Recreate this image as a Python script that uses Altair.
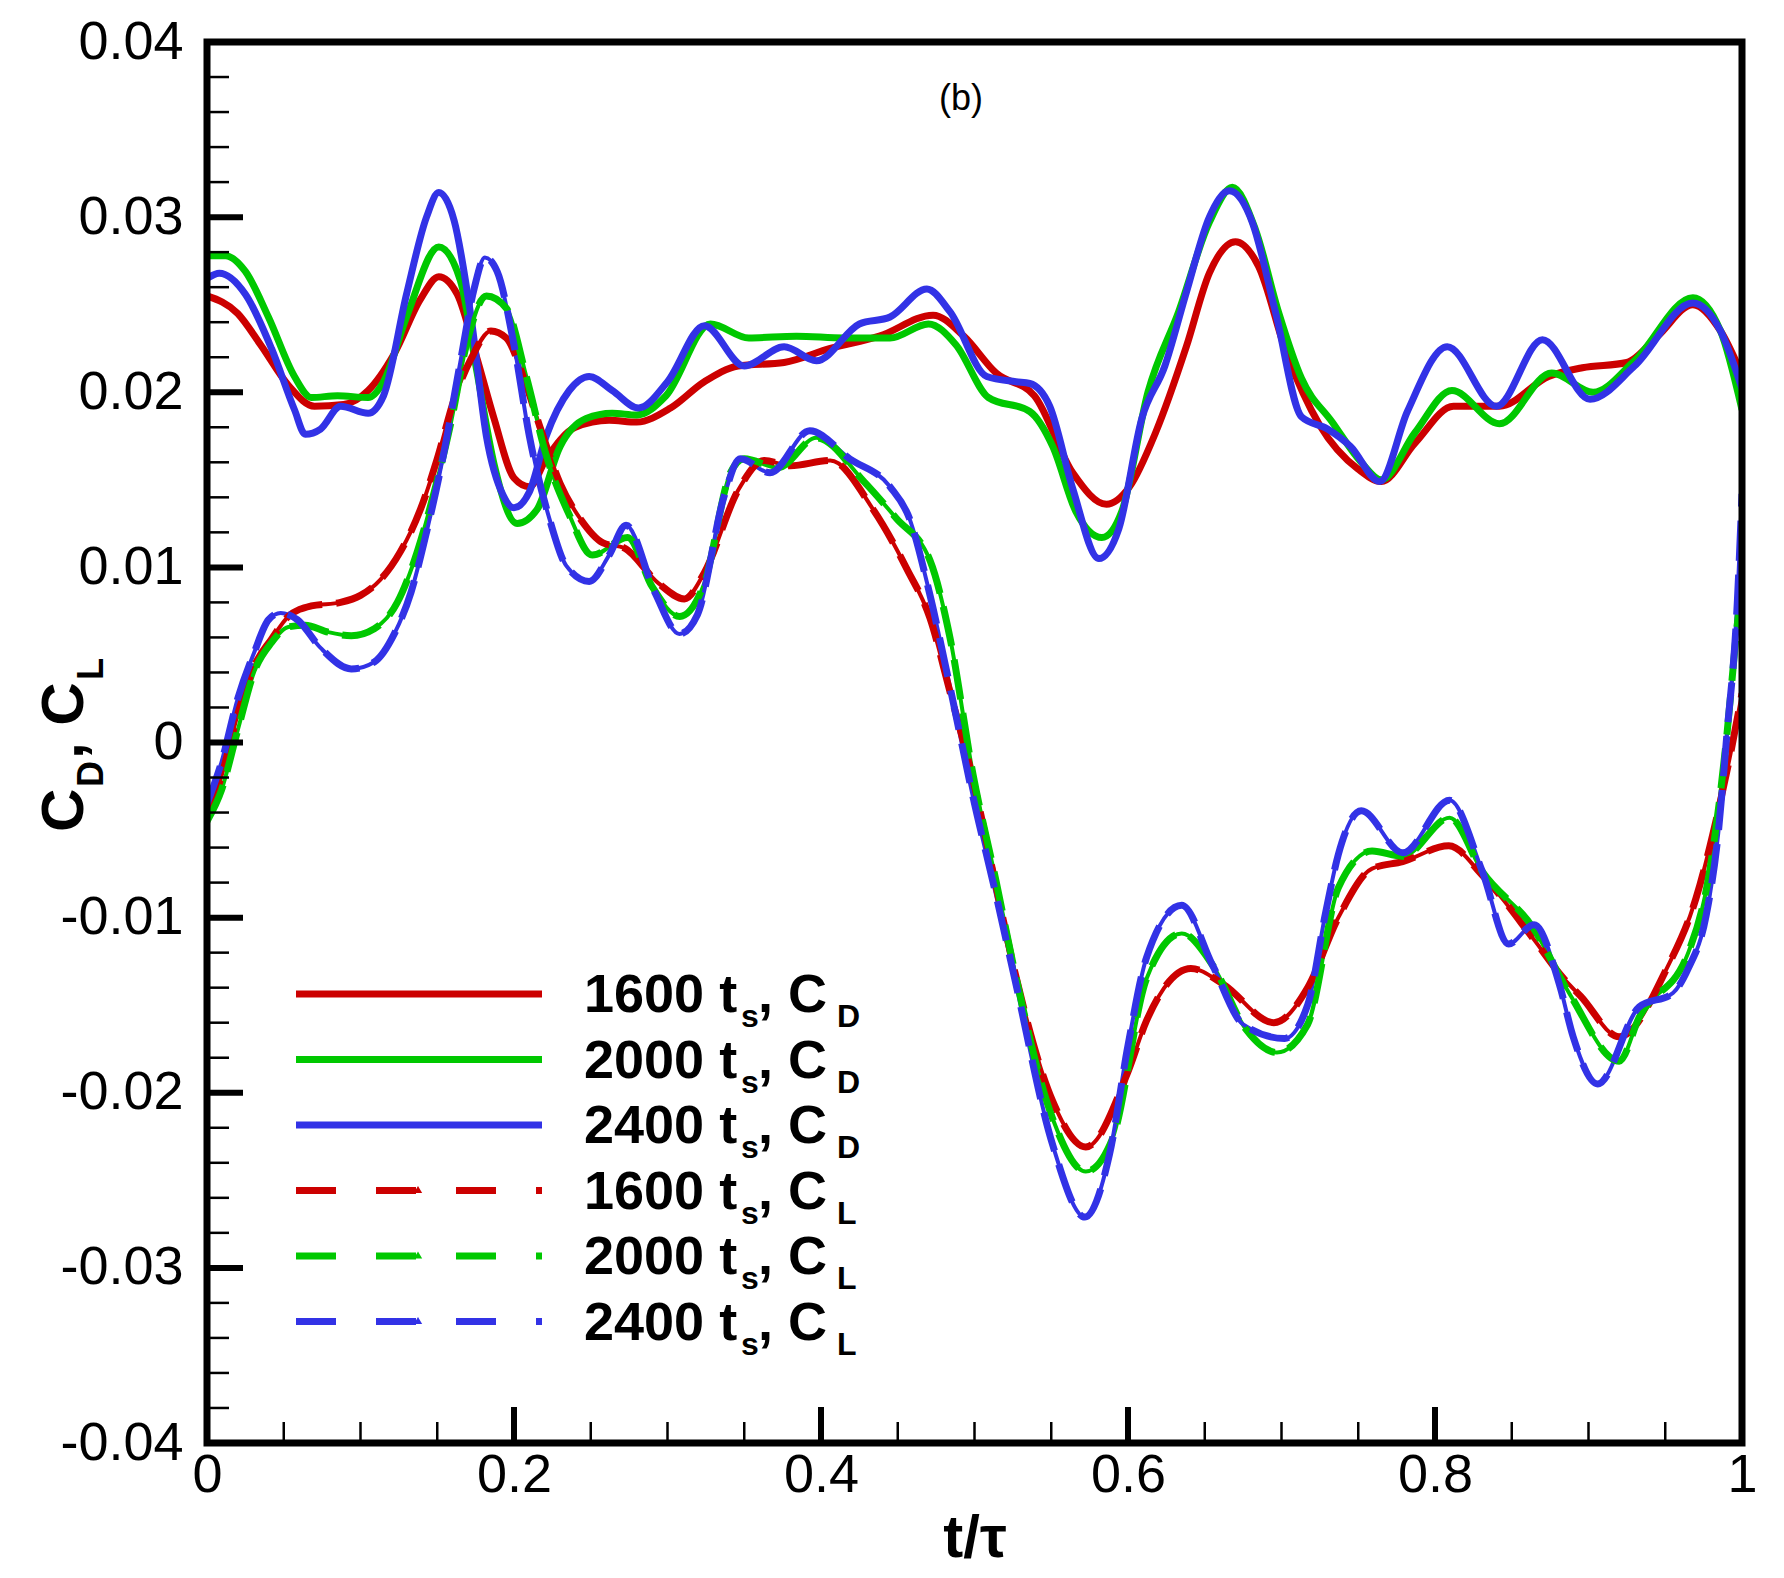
import altair as alt
import pandas as pd

# ---------------- data ----------------
RUNS = ["1600", "2000", "2400"]
COLORS = ["#CC0000", "#00C800", "#3232E6"]

T_CD_1600 = [0.0, 0.02, 0.035, 0.053, 0.07, 0.089, 0.105, 0.122, 0.139, 0.151, 0.163, 0.176, 0.187, 0.2, 0.21,
             0.221, 0.24, 0.262, 0.28, 0.302, 0.324, 0.346, 0.376, 0.406, 0.438, 0.473, 0.493, 0.514, 0.539, 0.564,
             0.586, 0.601, 0.618, 0.638, 0.653, 0.67, 0.685, 0.703, 0.725, 0.75, 0.765, 0.787, 0.812, 0.842, 0.874,
             0.896, 0.925, 0.945, 0.968, 0.986, 1.0]
V_CD_1600 = [0.0255, 0.0245, 0.0227, 0.0204, 0.0192, 0.0193, 0.0201, 0.0222, 0.0253, 0.0266, 0.0256, 0.0219, 0.0185,
             0.0151, 0.0146, 0.0162, 0.018, 0.0184, 0.0183, 0.0191, 0.0206, 0.0215, 0.0217, 0.0225, 0.0232, 0.0244,
             0.0232, 0.0211, 0.0198, 0.0154, 0.0136, 0.0146, 0.0177, 0.0226, 0.0268, 0.0286, 0.0272, 0.0223, 0.0181,
             0.0156, 0.0149, 0.0171, 0.0192, 0.0192, 0.0209, 0.0214, 0.0217, 0.0232, 0.025, 0.0235, 0.021]

T_CD_2000 = [0.0, 0.012, 0.025, 0.04, 0.057, 0.068, 0.085, 0.105, 0.115, 0.13, 0.151, 0.165, 0.176, 0.187, 0.202,
             0.215, 0.23, 0.247, 0.264, 0.28, 0.299, 0.328, 0.353, 0.384, 0.415, 0.445, 0.47, 0.488, 0.509, 0.536,
             0.551, 0.566, 0.583, 0.596, 0.613, 0.633, 0.653, 0.668, 0.683, 0.698, 0.713, 0.733, 0.752, 0.765, 0.787,
             0.811, 0.842, 0.876, 0.903, 0.93, 0.968, 0.986, 1.0]
V_CD_2000 = [0.0278, 0.0278, 0.0269, 0.0243, 0.0209, 0.0197, 0.0198, 0.0197, 0.0206, 0.0243, 0.0283, 0.0264, 0.0211,
             0.0159, 0.0125, 0.0133, 0.0169, 0.0185, 0.0188, 0.0187, 0.0198, 0.0239, 0.0231, 0.0232, 0.0231, 0.0231,
             0.0239, 0.0227, 0.0197, 0.0189, 0.0169, 0.0132, 0.0117, 0.0132, 0.02, 0.0246, 0.0297, 0.0317, 0.0293,
             0.0246, 0.0208, 0.0183, 0.016, 0.015, 0.0177, 0.0201, 0.0182, 0.0211, 0.02, 0.0218, 0.0254, 0.0235,
             0.019]

T_CD_2400 = [0.0, 0.008, 0.025, 0.042, 0.057, 0.064, 0.074, 0.087, 0.105, 0.115, 0.13, 0.143, 0.151, 0.161, 0.172,
             0.182, 0.193, 0.2, 0.21, 0.221, 0.236, 0.249, 0.264, 0.281, 0.3, 0.324, 0.35, 0.376, 0.397, 0.425,
             0.445, 0.469, 0.484, 0.508, 0.527, 0.536, 0.549, 0.564, 0.581, 0.594, 0.609, 0.624, 0.638, 0.653,
             0.666, 0.681, 0.696, 0.713, 0.73, 0.745, 0.764, 0.782, 0.808, 0.84, 0.87, 0.901, 0.93, 0.968, 0.986,
             1.0]
V_CD_2400 = [0.0265, 0.0268, 0.0256, 0.0225, 0.019, 0.0176, 0.0179, 0.0192, 0.0188, 0.0198, 0.0256, 0.03, 0.0314,
             0.0298, 0.0243, 0.0175, 0.0141, 0.0134, 0.0143, 0.0175, 0.0201, 0.0209, 0.0201, 0.0191, 0.0206, 0.0238,
             0.0215, 0.0226, 0.0218, 0.0239, 0.0243, 0.0259, 0.0246, 0.0209, 0.0206, 0.0205, 0.0192, 0.0145, 0.0105,
             0.0122, 0.0185, 0.0215, 0.0257, 0.03, 0.0315, 0.0297, 0.0246, 0.0186, 0.0179, 0.0169, 0.0149, 0.0189,
             0.0226, 0.0192, 0.023, 0.0196, 0.0215, 0.0251, 0.0235, 0.0202]

T_CL_1600 = [0.0, 0.0095, 0.02, 0.031, 0.042, 0.053, 0.068, 0.087, 0.1, 0.113, 0.126, 0.139, 0.15, 0.161, 0.172,
             0.185, 0.195, 0.206, 0.217, 0.23, 0.243, 0.258, 0.272, 0.294, 0.311, 0.324, 0.346, 0.363, 0.38, 0.406,
             0.434, 0.456, 0.471, 0.484, 0.499, 0.514, 0.526, 0.551, 0.5725, 0.6, 0.612, 0.641, 0.662, 0.695, 0.717,
             0.737, 0.759, 0.779, 0.809, 0.831, 0.864, 0.883, 0.895, 0.92, 0.951, 0.97, 0.9835, 0.9926, 1.0]
V_CL_1600 = [-0.0043, -0.0019, 0.0016, 0.0044, 0.0059, 0.0072, 0.0078, 0.008, 0.0084, 0.0093, 0.0109, 0.0133,
             0.0162, 0.0196, 0.0219, 0.0235, 0.0231, 0.0209, 0.018, 0.0148, 0.0128, 0.0114, 0.0111, 0.0091, 0.0082,
             0.0097, 0.0144, 0.0161, 0.0158, 0.0161, 0.0133, 0.0099, 0.0071, 0.0029, -0.0021, -0.0082, -0.013,
             -0.0205, -0.0231, -0.0188, -0.0159, -0.0129, -0.0138, -0.016, -0.014, -0.01, -0.0072, -0.0068, -0.0059,
             -0.0076, -0.0112, -0.0134, -0.0145, -0.0168, -0.0129, -0.0089, -0.0043, -0.0006, 0.0028]

T_CL_2000 = [0.0, 0.0095, 0.02, 0.031, 0.042, 0.053, 0.064, 0.079, 0.094, 0.109, 0.124, 0.137, 0.148, 0.159, 0.169,
             0.182, 0.195, 0.208, 0.221, 0.236, 0.251, 0.274, 0.29, 0.308, 0.324, 0.341, 0.35, 0.372, 0.397, 0.428,
             0.449, 0.471, 0.484, 0.499, 0.514, 0.526, 0.551, 0.5725, 0.59, 0.612, 0.635, 0.655, 0.677, 0.697, 0.717,
             0.737, 0.759, 0.779, 0.8095, 0.831, 0.864, 0.888, 0.92, 0.933, 0.965, 0.979, 0.99, 0.997, 1.0]
V_CL_2000 = [-0.0045, -0.0027, 0.0007, 0.0041, 0.0057, 0.0066, 0.0067, 0.0063, 0.0061, 0.0065, 0.008, 0.0109,
             0.0143, 0.0183, 0.0227, 0.0255, 0.0248, 0.0209, 0.0164, 0.013, 0.0107, 0.0117, 0.0089, 0.0072, 0.0091,
             0.0154, 0.0162, 0.0157, 0.0174, 0.0149, 0.0128, 0.0104, 0.006, -0.0018, -0.0079, -0.013, -0.0215,
             -0.0245, -0.0226, -0.0135, -0.0109, -0.0127, -0.0164, -0.0177, -0.0161, -0.0083, -0.0062, -0.0065,
             -0.0043, -0.0074, -0.0106, -0.0144, -0.0182, -0.0157, -0.012, -0.0073, 0.0003, 0.0068, 0.009]

T_CL_2400 = [0.0, 0.0095, 0.02, 0.031, 0.04, 0.048, 0.059, 0.074, 0.094, 0.109, 0.122, 0.133, 0.143, 0.154, 0.165,
             0.174, 0.181, 0.189, 0.2, 0.21, 0.223, 0.234, 0.249, 0.262, 0.273, 0.2916, 0.3078, 0.3195, 0.337,
             0.3474, 0.3668, 0.3927, 0.4187, 0.445, 0.4576, 0.4705, 0.4835, 0.499, 0.514, 0.526, 0.551, 0.572,
             0.588, 0.6, 0.612, 0.635, 0.655, 0.675, 0.702, 0.717, 0.729, 0.737, 0.752, 0.779, 0.8095, 0.831,
             0.848, 0.8645, 0.881, 0.89, 0.906, 0.933, 0.955, 0.965, 0.9766, 0.9845, 0.99, 0.997, 1.0]
V_CL_2400 = [-0.0035, -0.0011, 0.0025, 0.0052, 0.007, 0.0074, 0.007, 0.0054, 0.0042, 0.0046, 0.0062, 0.0086, 0.012,
             0.0164, 0.0217, 0.0259, 0.0277, 0.0269, 0.0227, 0.0175, 0.0128, 0.0101, 0.0092, 0.0107, 0.0124, 0.0086,
             0.0062, 0.0073, 0.0141, 0.0162, 0.0154, 0.0178, 0.0162, 0.0146, 0.0128, 0.0086, 0.0034, -0.0031,
             -0.0087, -0.0134, -0.023, -0.0271, -0.0235, -0.0173, -0.0123, -0.0093, -0.0127, -0.0161, -0.0169,
             -0.015, -0.0096, -0.0064, -0.0039, -0.0063, -0.0033, -0.0074, -0.0115, -0.0104, -0.0138, -0.0168,
             -0.0195, -0.0151, -0.0143, -0.0129, -0.0099, -0.0052, 0.0003, 0.0081, 0.0142]

X_TICK_LABELS = [0, 0.2, 0.4, 0.6, 0.8, 1]
Y_TICK_LABELS = [-0.04, -0.03, -0.02, -0.01, 0, 0.01, 0.02, 0.03, 0.04]
LEGEND_RUNS = ["1600", "2000", "2400", "1600", "2000", "2400"]
LEGEND_SUBS = ["D", "D", "D", "L", "L", "L"]
PANEL_LABEL = "(b)"

# ---------------- build tables ----------------
SERIES = [
    ("CD", "1600", T_CD_1600, V_CD_1600), ("CD", "2000", T_CD_2000, V_CD_2000), ("CD", "2400", T_CD_2400, V_CD_2400),
    ("CL", "1600", T_CL_1600, V_CL_1600), ("CL", "2000", T_CL_2000, V_CL_2000), ("CL", "2400", T_CL_2400, V_CL_2400),
]
rows = []
for kind, run, ts, vs in SERIES:
    for t, v in zip(ts, vs):
        rows.append({"kind": kind, "run": run, "t": t, "v": v})
df = pd.DataFrame(rows)

y_major = [round(-0.03 + 0.01 * i, 4) for i in range(7)]
y_minor = [round(-0.04 + 0.002 * i, 4) for i in range(41)]
y_minor = [v for v in y_minor if abs(round(v * 100) - v * 100) > 1e-6]
x_major = [0.2, 0.4, 0.6, 0.8]
x_minor = [round(0.05 * i, 4) for i in range(1, 20) if i % 4 != 0]

W, H = 1535, 1401
FONT = "Liberation Sans"

xs = alt.Scale(domain=[0, 1], nice=False, zero=False)
ys = alt.Scale(domain=[-0.04, 0.04], nice=False, zero=False)
cscale = alt.Scale(domain=RUNS, range=COLORS)

x_axis = alt.Axis(values=X_TICK_LABELS, labelExpr="'' + datum.value", ticks=False, tickSize=0, domain=False,
                  grid=False, labelFont=FONT, labelFontSize=54, labelColor="black", labelPadding=5,
                  labelFlush=False, labelOverlap=False, title="t/τ", titleFont=FONT, titleFontSize=60,
                  titleFontWeight="bold", titleColor="black", titleY=113, titleBaseline="alphabetic")
y_axis = alt.Axis(values=Y_TICK_LABELS, labelExpr="'' + datum.value", ticks=False, tickSize=0, domain=False,
                  grid=False, labelFont=FONT, labelFontSize=54, labelColor="black", labelPadding=24,
                  labelFlush=False, labelOverlap=False, title=" ")

X = lambda: alt.X("t:Q", scale=xs, axis=x_axis)
Y = lambda: alt.Y("v:Q", scale=ys, axis=y_axis)

base = alt.Chart(df)

cd = base.transform_filter(alt.datum.kind == "CD").mark_line(
    strokeWidth=7, interpolate="monotone", clip=True).encode(
    x=X(), y=Y(), color=alt.Color("run:N", scale=cscale, legend=None))
cl_under = base.transform_filter(alt.datum.kind == "CL").mark_line(
    strokeWidth=4, interpolate="monotone", clip=True).encode(
    x=X(), y=Y(), color=alt.Color("run:N", scale=cscale, legend=None))
cl = base.transform_filter(alt.datum.kind == "CL").mark_line(
    strokeWidth=7, strokeDash=[40, 14], interpolate="monotone", clip=True).encode(
    x=X(), y=Y(), color=alt.Color("run:N", scale=cscale, legend=None))

# ticks (inward)
def ytick(vals, length, width):
    return alt.Chart(pd.DataFrame({"v": vals})).mark_rule(color="black", strokeWidth=width).encode(
        y=Y(), x=alt.value(0), x2=alt.value(length))

def xtick(vals, length, width):
    return alt.Chart(pd.DataFrame({"t": vals})).mark_rule(color="black", strokeWidth=width).encode(
        x=X(), y=alt.value(H), y2=alt.value(H - length))

ticks = [ytick(y_major, 36, 6), ytick(y_minor, 22, 2.5), xtick(x_major, 36, 6), xtick(x_minor, 21, 2.5)]

# legend
one = pd.DataFrame({"a": [0]})
legend_layers = []
for i, (run, sub) in enumerate(zip(LEGEND_RUNS, LEGEND_SUBS)):
    col = COLORS[RUNS.index(run)]
    ly = 952 + i * 65.5
    by = 970 + i * 65.5
    if sub == "D":
        legend_layers.append(alt.Chart(one).mark_rule(color=col, strokeWidth=7).encode(
            x=alt.value(89), x2=alt.value(335), y=alt.value(ly)))
    else:
        legend_layers.append(alt.Chart(one).mark_rule(color=col, strokeWidth=7, strokeDash=[40, 40]).encode(
            x=alt.value(89), x2=alt.value(335), y=alt.value(ly)))
        legend_layers.append(alt.Chart(one).mark_point(shape="triangle-up", filled=True, size=70, color=col,
                                                       opacity=1).encode(x=alt.value(211), y=alt.value(ly - 1)))
    for txt, px, py, fs in [(run + " t", 377, by, 54), ("s", 534, by + 15, 32),
                            (", C", 551, by, 54), (sub, 630, by + 15, 32)]:
        legend_layers.append(alt.Chart(one).mark_text(
            text=txt, font=FONT, fontSize=fs, fontWeight="bold", color="black", align="left",
            baseline="alphabetic").encode(x=alt.value(px), y=alt.value(py)))

# y-axis title with subscripts (rotated)
ytitle = []
for txt, px, py, fs in [("C", -124, 790, 60), ("D", -104, 745, 36), (", C", -124, 717, 60), ("L", -104, 638, 36)]:
    ytitle.append(alt.Chart(one).mark_text(
        text=txt, font=FONT, fontSize=fs, fontWeight="bold", color="black", align="left",
        baseline="alphabetic", angle=270).encode(x=alt.value(px), y=alt.value(py)))

panel = alt.Chart(one).mark_text(text=PANEL_LABEL, font=FONT, fontSize=36, color="black",
                                 align="center", baseline="middle").encode(x=alt.value(754), y=alt.value(57))

frame = alt.Chart(one).mark_rect(fillOpacity=0, stroke="black", strokeWidth=7).encode(
    x=alt.value(0), x2=alt.value(W), y=alt.value(0), y2=alt.value(H))

chart = alt.layer(cd, cl_under, cl, *ticks, *legend_layers, *ytitle, panel, frame).properties(
    width=W, height=H,
    padding={"left": 199, "top": 34, "right": 26, "bottom": 125},
    autosize=alt.AutoSizeParams(type="none"),
).configure_view(stroke=None).configure(background="white")

chart.save("out.html", embed_options={"renderer": "svg", "actions": False})
